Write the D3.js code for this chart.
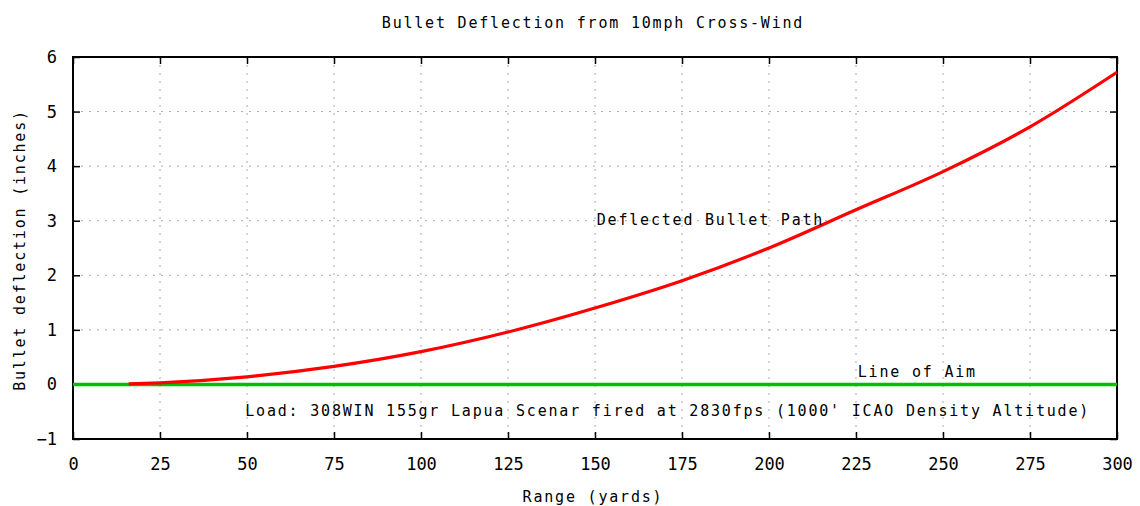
<!DOCTYPE html>
<html>
<head>
<meta charset="utf-8">
<script src="https://cdn.jsdelivr.net/npm/d3@7"></script>
<style>
  body { margin: 0; background: #fff; }
  svg text { font-family: "DejaVu Sans Mono", monospace; fill: #000; }
</style>
</head>
<body>
<div id="chart"></div>
<script>
// Data
const rangeYards = [16, 25, 50, 75, 100, 125, 150, 175, 200, 225, 250, 275, 300];
const deflection = [0.01, 0.03, 0.14, 0.33, 0.6, 0.96, 1.4, 1.9, 2.5, 3.2, 3.9, 4.72, 5.72];
const aimRange = [0, 300];
const aimValue = [0, 0];
const xTicks = [0, 25, 50, 75, 100, 125, 150, 175, 200, 225, 250, 275, 300];
const yTicks = [-1, 0, 1, 2, 3, 4, 5, 6];

const W = 1140, H = 506;
const margin = { top: 57, right: 23, bottom: 67, left: 73 };
const width = W - margin.left - margin.right;
const height = H - margin.top - margin.bottom;

const svg = d3.select("#chart").append("svg")
    .attr("width", W)
    .attr("height", H);

const g = svg.append("g")
    .attr("transform", `translate(${margin.left},${margin.top})`);

const x = d3.scaleLinear().domain([0, 300]).range([0, width]);
const y = d3.scaleLinear().domain([-1, 6]).range([height, 0]);

// grid
g.append("g").selectAll("line")
    .data(xTicks.slice(1, -1))
    .enter().append("line")
    .attr("x1", d => x(d)).attr("x2", d => x(d))
    .attr("y1", 0).attr("y2", height)
    .attr("stroke", "#a8a8a8")
    .attr("stroke-dasharray", "2,6");

g.append("g").selectAll("line")
    .data(yTicks.slice(1, -1))
    .enter().append("line")
    .attr("x1", 0).attr("x2", width)
    .attr("y1", d => y(d)).attr("y2", d => y(d))
    .attr("stroke", "#a8a8a8")
    .attr("stroke-dasharray", "2,6");

// axes (ticks inside, mirrored)
const tick = 7;
g.append("g").attr("class", "x-axis")
    .attr("transform", `translate(0,${height})`)
    .call(d3.axisBottom(x).tickValues(xTicks).tickSizeInner(-tick).tickSizeOuter(0).tickPadding(19));
g.append("g").attr("class", "x-axis-top")
    .call(d3.axisTop(x).tickValues(xTicks).tickSizeInner(-tick).tickSizeOuter(0).tickFormat(""));
g.append("g").attr("class", "y-axis")
    .call(d3.axisLeft(y).tickValues(yTicks).tickSizeInner(-tick).tickSizeOuter(0).tickPadding(16)
        .tickFormat(d => d < 0 ? "\u2212" + Math.abs(d) : d));
g.append("g").attr("class", "y-axis-right")
    .attr("transform", `translate(${width},0)`)
    .call(d3.axisRight(y).tickValues(yTicks).tickSizeInner(-tick).tickSizeOuter(0).tickFormat(""));

g.selectAll(".x-axis path, .x-axis-top path, .y-axis path, .y-axis-right path").remove();
g.selectAll(".x-axis line, .x-axis-top line, .y-axis line, .y-axis-right line")
    .attr("stroke", "#000").attr("stroke-width", 1.5);
g.selectAll(".x-axis text, .y-axis text")
    .attr("font-family", "DejaVu Sans Mono, monospace")
    .attr("font-size", "17px")
    .attr("fill", "#000");

// border
g.append("rect")
    .attr("x", 0).attr("y", 0)
    .attr("width", width).attr("height", height)
    .attr("fill", "none")
    .attr("stroke", "#000")
    .attr("stroke-width", 2);

// line of aim
const aimLine = d3.line().x((d, i) => x(aimRange[i])).y(d => y(d));
g.append("path")
    .datum(aimValue)
    .attr("d", aimLine)
    .attr("fill", "none")
    .attr("stroke", "#00c000")
    .attr("stroke-width", 3.5);

// deflected path
const pathLine = d3.line()
    .x((d, i) => x(rangeYards[i]))
    .y(d => y(d))
    .curve(d3.curveMonotoneX);
g.append("path")
    .datum(deflection)
    .attr("d", pathLine)
    .attr("fill", "none")
    .attr("stroke", "#ff0000")
    .attr("stroke-width", 3.2);

// labels
const lbl = (sel) => sel.attr("font-size", "15px").attr("letter-spacing", "1.8px");

svg.append("text")
    .attr("x", 593).attr("y", 28)
    .attr("text-anchor", "middle")
    .call(lbl)
    .text("Bullet Deflection from 10mph Cross-Wind");

svg.append("text")
    .attr("x", 593).attr("y", 502)
    .attr("text-anchor", "middle")
    .call(lbl)
    .text("Range (yards)");

svg.append("text")
    .attr("transform", "translate(25,250) rotate(-90)")
    .attr("text-anchor", "middle")
    .call(lbl)
    .text("Bullet deflection (inches)");

g.append("text")
    .attr("x", x(150.5)).attr("y", y(2.93))
    .call(lbl)
    .text("Deflected Bullet Path");

g.append("text")
    .attr("x", x(225.5)).attr("y", y(0.13))
    .call(lbl)
    .text("Line of Aim");

g.append("text")
    .attr("x", x(49.5)).attr("y", y(-0.58))
    .call(lbl)
    .text("Load: 308WIN 155gr Lapua Scenar fired at 2830fps (1000' ICAO Density Altitude)");
</script>
</body>
</html>
